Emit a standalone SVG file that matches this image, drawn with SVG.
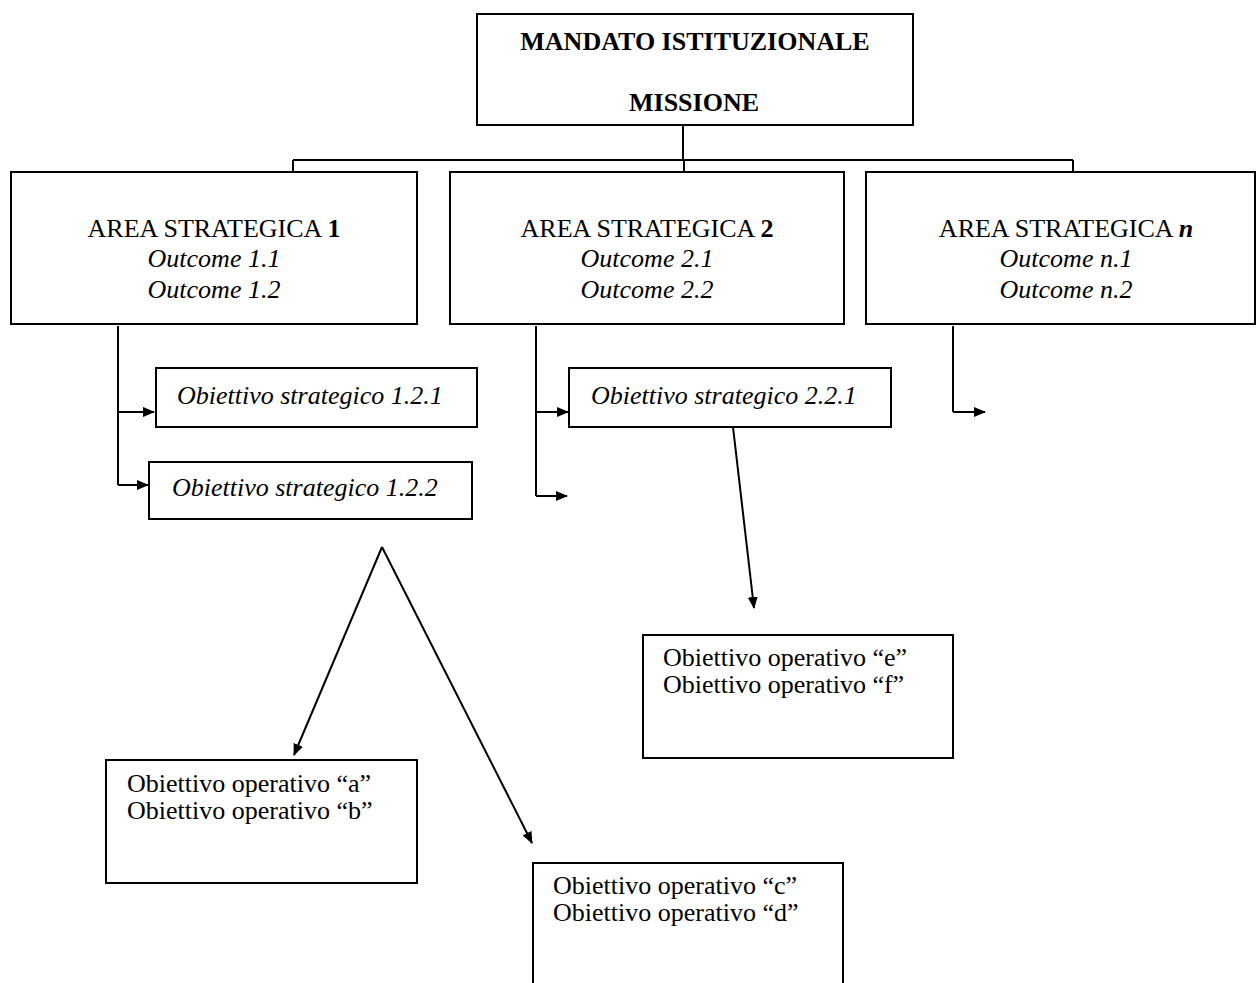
<svg xmlns="http://www.w3.org/2000/svg" width="1256" height="983" viewBox="0 0 1256 983">
<defs>
<style>
.box{fill:#fff;stroke:#000;stroke-width:2}
.ln{fill:none;stroke:#000;stroke-width:2}
.arr{fill:none;stroke:#000;stroke-width:2;marker-end:url(#ah)}
text{font-family:"Liberation Serif","Times New Roman",serif;font-size:26px;fill:#000}
.c{text-anchor:middle}
.b{font-weight:bold}
.i{font-style:italic}
</style>
<marker id="ah" markerUnits="userSpaceOnUse" markerWidth="12" markerHeight="10" refX="11" refY="5" orient="auto">
<path d="M0,0 L12,5 L0,10 z" fill="#000"/>
</marker>
</defs>
<rect width="1256" height="983" fill="#fff"/>
<g id="connectors">
<path class="ln" d="M683,125 V160 M293,160 H1073 M293,160 V172 M684,160 V172 M1073,160 V172"/>
<path class="ln" d="M118,326 V485"/>
<path class="arr" d="M118,412 H154"/>
<path class="arr" d="M118,485 H148"/>
<path class="ln" d="M536,326 V496"/>
<path class="arr" d="M536,412 H568"/>
<path class="arr" d="M536,496 H567"/>
<path class="ln" d="M953,326 V412"/>
<path class="arr" d="M953,412 H985"/>
<path class="arr" d="M733,427 L754,608"/>
<path class="arr" d="M382,547 L294,755"/>
<path class="arr" d="M382,547 L532,843"/>
</g>
<g id="mandato">
<rect class="box" x="477" y="14" width="436" height="111"/>
<text class="c b" x="695" y="50">MANDATO ISTITUZIONALE</text>
<text class="c b" x="694" y="111">MISSIONE</text>
</g>
<g id="area1">
<rect class="box" x="11" y="172" width="406" height="152"/>
<text class="c" x="214" y="237">AREA STRATEGICA <tspan class="b">1</tspan></text>
<text class="c i" x="214" y="267">Outcome 1.1</text>
<text class="c i" x="214" y="298">Outcome 1.2</text>
</g>
<g id="area2">
<rect class="box" x="450" y="172" width="394" height="152"/>
<text class="c" x="647" y="237">AREA STRATEGICA <tspan class="b">2</tspan></text>
<text class="c i" x="647" y="267">Outcome 2.1</text>
<text class="c i" x="647" y="298">Outcome 2.2</text>
</g>
<g id="arean">
<rect class="box" x="866" y="172" width="389" height="152"/>
<text class="c" x="1066" y="237">AREA STRATEGICA <tspan class="b i">n</tspan></text>
<text class="c i" x="1066" y="267">Outcome n.1</text>
<text class="c i" x="1066" y="298">Outcome n.2</text>
</g>
<g id="os121">
<rect class="box" x="156" y="368" width="321" height="59"/>
<text class="i" x="177" y="404">Obiettivo strategico 1.2.1</text>
</g>
<g id="os122">
<rect class="box" x="149" y="462" width="323" height="57"/>
<text class="i" x="172" y="496">Obiettivo strategico 1.2.2</text>
</g>
<g id="os221">
<rect class="box" x="569" y="368" width="322" height="59"/>
<text class="i" x="591" y="404">Obiettivo strategico 2.2.1</text>
</g>
<g id="opab">
<rect class="box" x="106" y="760" width="311" height="123"/>
<text x="127" y="792">Obiettivo operativo “a”</text>
<text x="127" y="819">Obiettivo operativo “b”</text>
</g>
<g id="opcd">
<rect class="box" x="533" y="863" width="310" height="130"/>
<text x="553" y="894">Obiettivo operativo “c”</text>
<text x="553" y="921">Obiettivo operativo “d”</text>
</g>
<g id="opef">
<rect class="box" x="643" y="635" width="310" height="123"/>
<text x="663" y="666">Obiettivo operativo “e”</text>
<text x="663" y="693">Obiettivo operativo “f”</text>
</g>
</svg>
